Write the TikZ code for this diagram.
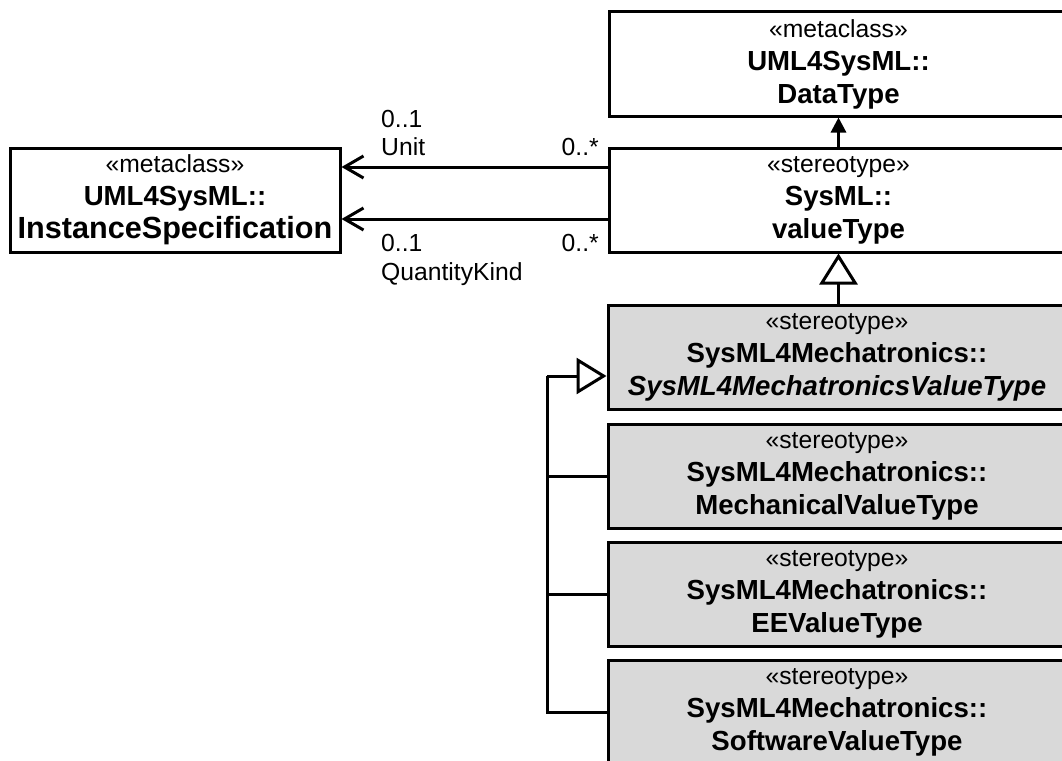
\documentclass[tikz,border=0pt]{standalone}
\usepackage{fontspec}
\setmainfont{Liberation Sans}
\usetikzlibrary{arrows.meta}

\definecolor{extgray}{RGB}{217,217,217}

% keyword line and bold name line of a class box
\newcommand{\stereo}[1]{{\fontsize{24.7}{33}\selectfont #1}}
\newcommand{\bname}[1]{{\fontsize{27.6}{33}\selectfont\bfseries #1}}
\newcommand{\bigname}[1]{{\fontsize{30.6}{33}\selectfont\bfseries #1}}
\newcommand{\iname}[1]{{\fontsize{27.6}{33}\selectfont\bfseries\itshape #1}}

\begin{document}
\begin{tikzpicture}[x=1pt,y=-1pt,
  classbox/.style={draw, line width=3pt, fill=white, inner sep=0pt,
    minimum width=459pt, minimum height=104pt, align=center,
    font=\fontsize{24.7}{33}\selectfont},
  extbox/.style={classbox, fill=extgray},
  lbl/.style={inner sep=0pt, font=\fontsize{24.7}{30}\selectfont},
  conn/.style={line width=3pt},
  realizes/.style={conn, -{Triangle[width=15pt,length=15pt]}},
  assoc/.style={conn, -{Straight Barb[width=22pt,length=19pt,line width=3pt]}},
  genup/.style={conn, -{Triangle[open,width=38pt,length=31pt,fill=white,line width=3pt]}},
  genside/.style={conn, -{Triangle[open,width=36pt,length=30pt,fill=white,line width=3pt]}}
]
\useasboundingbox (0,0) rectangle (1062,760);
\clip (0,0) rectangle (1062,760);

% metaclasses
\node[classbox] (dt) at (838.5,64)
  {\stereo{«metaclass»}\\\bname{UML4SysML::}\\\bname{DataType}};
\node[classbox, minimum width=330pt] (is) at (175,200)
  {\stereo{«metaclass»}\\\bname{UML4SysML::}\\\bigname{InstanceSpecification}};

% SysML value type
\node[classbox] (vt) at (838.5,200)
  {\stereo{«stereotype»}\\\bname{SysML::}\\\bname{valueType}};

% SysML4Mechatronics value types
\node[extbox, minimum width=458pt] (s4m) at (837,357)
  {\stereo{«stereotype»}\\\bname{SysML4Mechatronics::}\\\iname{SysML4MechatronicsValueType}};
\node[extbox, minimum width=458pt] (mech) at (837,476)
  {\stereo{«stereotype»}\\\bname{SysML4Mechatronics::}\\\bname{MechanicalValueType}};
\node[extbox, minimum width=458pt] (ee) at (837,594)
  {\stereo{«stereotype»}\\\bname{SysML4Mechatronics::}\\\bname{EEValueType}};
\node[extbox, minimum width=458pt] (sw) at (837,712)
  {\stereo{«stereotype»}\\\bname{SysML4Mechatronics::}\\\bname{SoftwareValueType}};

% extension of DataType
\draw[realizes] (vt.north) -- (dt.south);

% generalization to valueType
\draw[genup] (vt.south |- s4m.north) -- (vt.south);

% associations to InstanceSpecification
\draw[assoc] ([yshift=33pt]vt.west) -- ([yshift=33pt]is.east);
\draw[assoc] ([yshift=-19pt]vt.west) -- ([yshift=-19pt]is.east);

\node[lbl, anchor=base west] (um) at (381,127) {0..1};
\node[lbl, anchor=base west] (un) at (381,155) {Unit};
\node[lbl, anchor=base east] (us) at (599,155) {0..*};
\node[lbl, anchor=base west] (qm) at (381,251) {0..1};
\node[lbl, anchor=base west] (qn) at (381,280) {QuantityKind};
\node[lbl, anchor=base east] (qs) at (599,251) {0..*};

% generalization tree of the specific value types
\coordinate (bus) at (547,376);
\draw[conn] (sw.west) -| (bus);
\draw[conn] (mech.west) -- (mech.west -| bus);
\draw[conn] (ee.west) -- (ee.west -| bus);
\draw[genside] (bus) -- (bus -| s4m.west);
\end{tikzpicture}
\end{document}
